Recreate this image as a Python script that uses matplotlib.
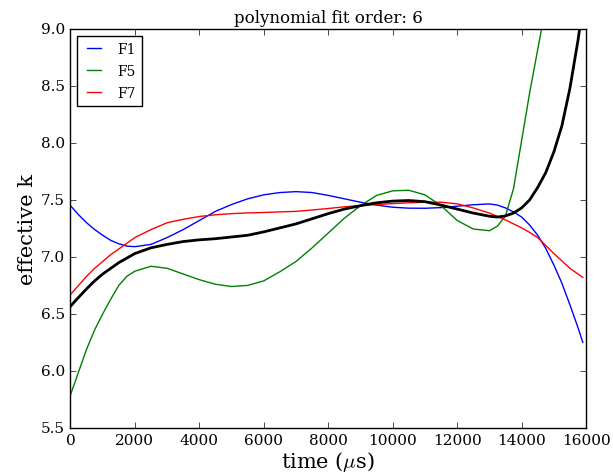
import matplotlib
matplotlib.use('Agg')
from matplotlib import pyplot as plt
import numpy as np

# time grid (us) and read-off values of the fitted curves
time = [0, 250, 500, 750, 1000, 1250, 1500, 1750, 2000,
        2500, 3000, 3500, 4000, 4500, 5000, 5500, 6000, 6500, 7000,
        7500, 8000, 8500, 9000, 9500, 10000, 10500, 11000, 11500,
        12000, 12500, 13000,
        13250, 13500, 13750, 14000, 14250, 14500, 14750, 15000,
        15250, 15500, 15750, 15900]

f1 = [7.45, 7.37, 7.30, 7.24, 7.19, 7.145, 7.115, 7.095, 7.09,
      7.11, 7.17, 7.24, 7.32, 7.40, 7.46, 7.51, 7.545, 7.565, 7.573,
      7.565, 7.54, 7.51, 7.48, 7.455, 7.436, 7.428, 7.427, 7.433,
      7.445, 7.458, 7.465,
      7.455, 7.43, 7.395, 7.35, 7.28, 7.19, 7.075, 6.93,
      6.77, 6.58, 6.38, 6.25]

f5 = [5.79, 5.99, 6.19, 6.36, 6.50, 6.63, 6.75, 6.83, 6.875,
      6.918, 6.90, 6.85, 6.80, 6.76, 6.74, 6.75, 6.79, 6.87, 6.96,
      7.08, 7.21, 7.34, 7.45, 7.54, 7.58, 7.585, 7.545, 7.45,
      7.32, 7.245, 7.23,
      7.27, 7.36, 7.60, 8.02, 8.44, 8.82, 9.20, 9.60,
      10.1, 10.6, 11.2, 11.6]

f7 = [6.67, 6.75, 6.83, 6.90, 6.96, 7.02, 7.07, 7.12, 7.17,
      7.24, 7.30, 7.33, 7.355, 7.37, 7.38, 7.386, 7.39, 7.395, 7.40,
      7.412, 7.425, 7.44, 7.45, 7.46, 7.468, 7.475, 7.48, 7.48,
      7.466, 7.43, 7.385,
      7.355, 7.325, 7.29, 7.255, 7.215, 7.17, 7.10, 7.03,
      6.965, 6.90, 6.85, 6.82]

mean_k = [6.567, 6.645, 6.72, 6.79, 6.85, 6.90, 6.95, 6.99, 7.03,
          7.08, 7.11, 7.135, 7.15, 7.16, 7.175, 7.19, 7.22, 7.255, 7.29,
          7.335, 7.38, 7.42, 7.45, 7.475, 7.49, 7.495, 7.485, 7.455,
          7.42, 7.385, 7.357,
          7.35, 7.36, 7.385, 7.43, 7.50, 7.61, 7.74, 7.92,
          8.15, 8.48, 8.90, 9.20]

order = 6

plt.style.use('classic')
plt.rcParams['font.family'] = 'serif'
plt.rcParams['font.serif'] = ['DejaVu Serif']

fig = plt.figure(figsize=(6.13, 4.77), dpi=100)
ax = fig.add_axes([0.115, 0.101, 0.841, 0.836])

ax.plot(time, f1, color='b', lw=1, label='F1')
ax.plot(time, f5, color='g', lw=1, label='F5')
ax.plot(time, f7, color='r', lw=1, label='F7')
ax.plot(time, mean_k, color='k', lw=2)

ax.set_xlim(0, 16000)
ax.set_ylim(5.5, 9.0)
ax.set_xticks(np.arange(0, 16001, 2000))
ax.set_yticks(np.arange(5.5, 9.01, 0.5))
ax.tick_params(labelsize=11)
ax.set_xlabel(r'time ($\mu$s)', fontsize=15, labelpad=1)
ax.set_ylabel('effective k', fontsize=15, labelpad=3)
ax.set_title('polynomial fit order: {}'.format(order), fontsize=12)
ax.legend(loc='upper left', fontsize=10, handlelength=1.6,
          handletextpad=0.9, labelspacing=0.6)

fig.savefig('out.png', dpi=100)
